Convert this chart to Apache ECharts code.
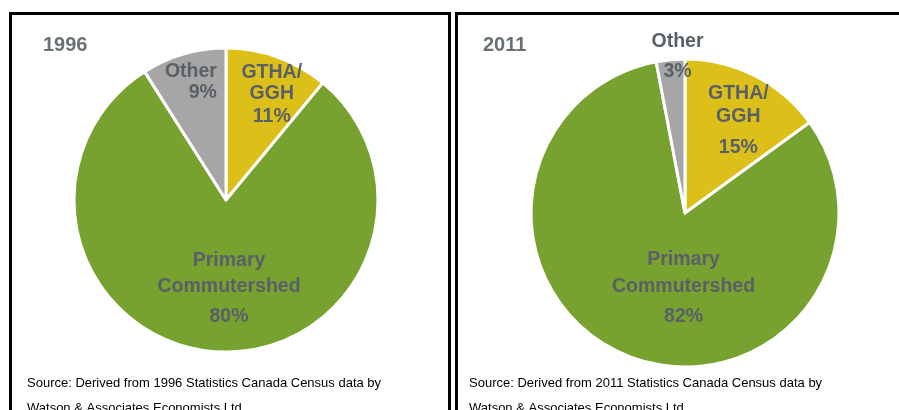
<!DOCTYPE html>
<html>
<head>
<meta charset="utf-8">
<script src="https://cdn.jsdelivr.net/npm/echarts@6/dist/echarts.min.js"></script>
<style>
  html, body { margin: 0; padding: 0; background: #ffffff; }
  #chart { width: 899px; height: 410px; }
</style>
</head>
<body>
<div id="chart"></div>
<script>
// Commuting-shed shares of workers, 1996 vs 2011 (percent)
const categories = ['GTHA/GGH', 'Primary Commutershed', 'Other'];
const categoryLines = [['GTHA/', 'GGH'], ['Primary', 'Commutershed'], ['Other']];
const share1996 = [11, 80, 9];
const share2011 = [15, 82, 3];
const years = ['1996', '2011'];
const sourceNotes = [
  ['Source: Derived from 1996 Statistics Canada Census data by', 'Watson & Associates Economists Ltd.'],
  ['Source: Derived from 2011 Statistics Canada Census data by', 'Watson & Associates Economists Ltd.']
];

const FONT = '"Liberation Sans", Arial, Helvetica, sans-serif';
const LABEL_COLOR = '#5a6067';
const TITLE_COLOR = '#687176';
const sliceColors = ['#dcbf19', '#78a22f', '#a6a6a6'];

// Label placement per slice: line heights, alignment and nudge from the slice midpoint
const labelStyle1996 = [
  { heights: [21, 21, 25.8], align: 'center', dx: 19, dy: -30 },
  { heights: [26, 26, 35.4], align: 'center', dx: 8, dy: 12 },
  { heights: [21, 21], align: 'right', dx: -13, dy: -42 }
];
const labelStyle2011 = [
  { heights: [23.4, 23.4, 37.8], align: 'center', dx: 17, dy: -17.5 },
  { heights: [26.7, 26.7, 33.3], align: 'center', dx: 28, dy: 2.4 },
  { heights: [30, 30], align: 'center', dx: 0, dy: -76.6 }
];

function buildData(values, styles) {
  return categories.map(function (name, i) {
    const lines = categoryLines[i].concat([values[i] + '%']);
    const st = styles[i];
    const rich = {};
    const parts = lines.map(function (txt, k) {
      rich['l' + k] = {
        fontFamily: FONT, fontSize: 19.5, fontWeight: 'bold',
        color: LABEL_COLOR, lineHeight: st.heights[k], align: st.align
      };
      return '{l' + k + '|' + txt + '}';
    });
    return {
      name: name,
      value: values[i],
      itemStyle: { color: sliceColors[i] },
      label: { formatter: parts.join('\n'), rich: rich }
    };
  });
}

function pieSeries(values, styles, center, radius) {
  return {
    type: 'pie',
    center: center,
    radius: radius,
    startAngle: 90,
    clockwise: true,
    avoidLabelOverlap: false,
    silent: true,
    itemStyle: { borderColor: '#ffffff', borderWidth: 3 },
    label: { show: true, position: 'inside' },
    labelLine: { show: false },
    emphasis: { disabled: true },
    labelLayout: function (params) {
      const st = styles[params.dataIndex];
      return { dx: st.dx, dy: st.dy };
    },
    data: buildData(values, styles)
  };
}

const chart = echarts.init(document.getElementById('chart'), null, { renderer: 'canvas' });

const noteText = function (x, y, txt) {
  return {
    type: 'text', x: x, y: y, silent: true,
    style: { text: txt, fontFamily: FONT, fontSize: 13, fill: '#000000', textVerticalAlign: 'middle' }
  };
};

const titleStyle = { fontFamily: FONT, fontSize: 20, fontWeight: 'bold', color: TITLE_COLOR };

chart.setOption({
  animation: false,
  backgroundColor: '#ffffff',
  title: [
    { text: years[0], left: 38, top: 30, textStyle: titleStyle },
    { text: years[1], left: 478, top: 30, textStyle: titleStyle }
  ],
  graphic: [
    { type: 'rect', silent: true, shape: { x: 10.5, y: 13.5, width: 439, height: 500 }, style: { fill: 'none', stroke: '#000000', lineWidth: 3 } },
    { type: 'rect', silent: true, shape: { x: 456.5, y: 13.5, width: 500, height: 500 }, style: { fill: 'none', stroke: '#000000', lineWidth: 3 } },
    noteText(27, 383, sourceNotes[0][0]),
    noteText(27, 408, sourceNotes[0][1]),
    noteText(469, 383, sourceNotes[1][0]),
    noteText(469, 408, sourceNotes[1][1])
  ],
  series: [
    pieSeries(share1996, labelStyle1996, [226, 200], 152),
    pieSeries(share2011, labelStyle2011, [685, 213], 154)
  ]
});
</script>
</body>
</html>
